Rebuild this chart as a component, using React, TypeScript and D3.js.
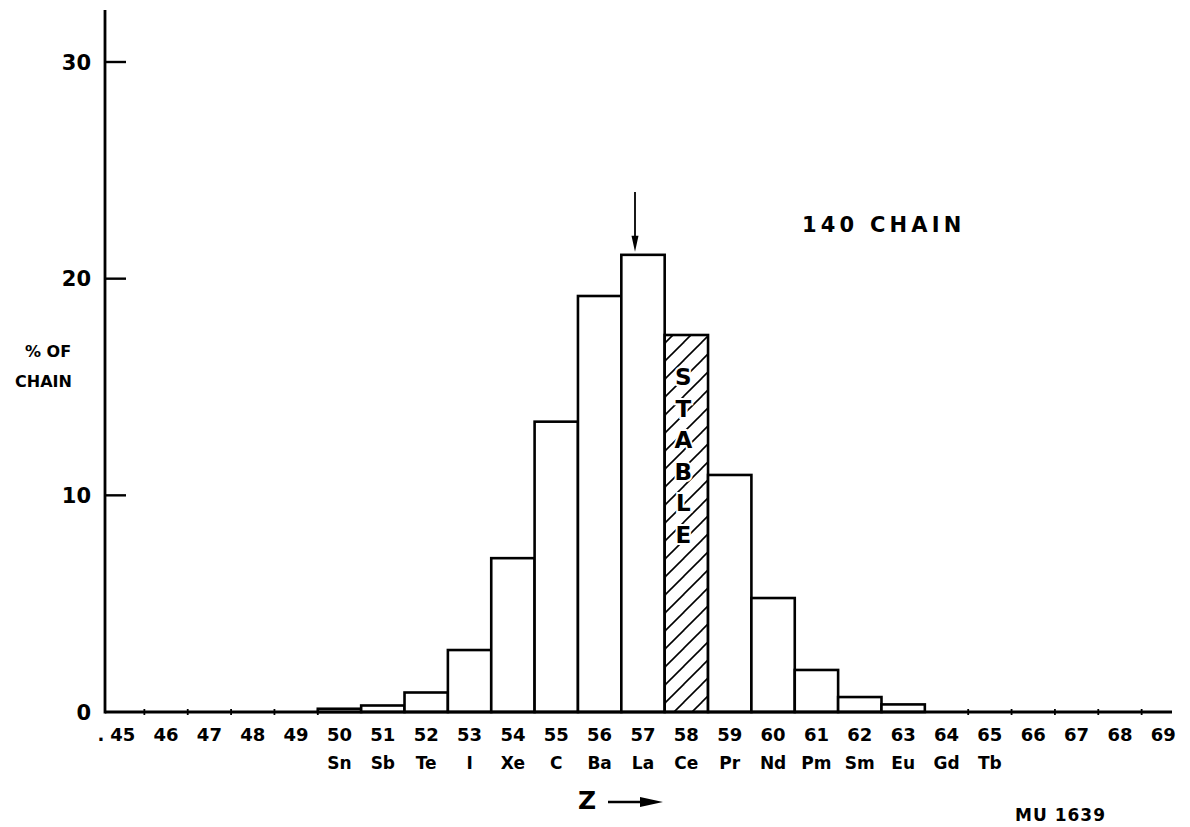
import React from "react";
import * as d3 from "d3";

const zValues = [45, 46, 47, 48, 49, 50, 51, 52, 53, 54, 55, 56, 57, 58, 59, 60, 61, 62, 63, 64, 65, 66, 67, 68, 69];
const elements = ["", "", "", "", "", "Sn", "Sb", "Te", "I", "Xe", "C", "Ba", "La", "Ce", "Pr", "Nd", "Pm", "Sm", "Eu", "Gd", "Tb", "", "", "", ""];
const percents = [0, 0, 0, 0, 0, 0.15, 0.3, 0.9, 2.86, 7.1, 13.4, 19.2, 21.1, 17.4, 10.94, 5.26, 1.94, 0.69, 0.35, 0, 0, 0, 0, 0, 0];
const stableZ = [58];
const arrowZ = 57;
const yTicks = [0, 10, 20, 30];
const stableLetters = ["S", "T", "A", "B", "L", "E"];

const W = 1190;
const H = 827;
const FONT = "'DejaVu Sans', 'Liberation Sans', sans-serif";

export default function App() {
  const x = d3
    .scaleBand<number>()
    .domain(zValues)
    .range([101, 101 + 25 * 43.36])
    .paddingInner(0)
    .paddingOuter(0);
  const y = d3.scaleLinear().domain([0, 30]).range([712, 62]);
  const bw = x.bandwidth();
  const axisX = 105;
  const baseY = y(0);

  const stableX = (x(stableZ[0]) as number) + bw / 2;
  const stableTop = y(percents[zValues.indexOf(stableZ[0])]);
  const arrowX = (x(arrowZ) as number) + bw / 2 - 8;
  const arrowTip = y(percents[zValues.indexOf(arrowZ)]) - 3;

  return (
    <svg width={W} height={H} style={{ position: "absolute", left: 0, top: 0, background: "#fff" }}>
      <defs>
        <pattern id="hatch" patternUnits="userSpaceOnUse" width={18} height={18}>
          <line x1={0} y1={18} x2={18} y2={0} stroke="#000" strokeWidth={1.6} />
          <line x1={-4} y1={4} x2={4} y2={-4} stroke="#000" strokeWidth={1.6} />
          <line x1={14} y1={22} x2={22} y2={14} stroke="#000" strokeWidth={1.6} />
        </pattern>
      </defs>
      <rect x={0} y={0} width={W} height={H} fill="#fff" />

      {/* bars */}
      {zValues.map((z, i) => {
        const v = percents[i];
        if (v <= 0) return null;
        const x0 = x(z) as number;
        const top = y(v);
        const hatched = stableZ.includes(z);
        return (
          <rect
            key={z}
            x={x0}
            y={top}
            width={bw}
            height={baseY - top}
            fill={hatched ? "url(#hatch)" : "#fff"}
            stroke="#000"
            strokeWidth={2.6}
          />
        );
      })}

      {/* small boundary ticks on baseline where bars are empty */}
      {zValues.map((z, i) => {
        if (percents[i] > 0) return null;
        const xb = (x(z) as number) + bw;
        if (xb > 1170) return null;
        return <line key={"t" + z} x1={xb} x2={xb} y1={baseY - 3} y2={baseY + 3} stroke="#000" strokeWidth={1.8} />;
      })}

      {/* axes */}
      <line x1={axisX} y1={10} x2={axisX} y2={baseY + 1.5} stroke="#000" strokeWidth={2.8} />
      <line x1={axisX} y1={baseY} x2={1172} y2={baseY} stroke="#000" strokeWidth={3} />
      {yTicks.map((t) => (
        <g key={t}>
          {t > 0 && <line x1={axisX} x2={axisX + 21} y1={y(t)} y2={y(t)} stroke="#000" strokeWidth={2.4} />}
          <text
            x={91}
            y={y(t)}
            dy="0.36em"
            textAnchor="end"
            fontFamily={FONT}
            fontWeight="bold"
            fontSize={21}
          >
            {t}
          </text>
        </g>
      ))}

      {/* x tick labels */}
      {zValues.map((z, i) => (
        <g key={"l" + z}>
          <text
            x={(x(z) as number) + bw / 2}
            y={741}
            textAnchor="middle"
            fontFamily={FONT}
            fontWeight="bold"
            fontSize={18}
          >
            {z}
          </text>
          {elements[i] && (
            <text
              x={(x(z) as number) + bw / 2}
              y={769}
              textAnchor="middle"
              fontFamily={FONT}
              fontWeight="bold"
              fontSize={17}
            >
              {elements[i]}
            </text>
          )}
        </g>
      ))}
      <text x={101} y={741} fontFamily={FONT} fontWeight="bold" fontSize={18} textAnchor="middle">.</text>

      {/* STABLE */}
      {stableLetters.map((ch, k) => (
        <text
          key={"s" + k}
          x={stableX - 3}
          y={stableTop + 42 + k * 31.5}
          dy="0.36em"
          textAnchor="middle"
          fontFamily={FONT}
          fontWeight="bold"
          fontSize={23}
          stroke="#fff"
          strokeWidth={4}
          paintOrder="stroke"
        >
          {ch}
        </text>
      ))}

      {/* arrow above peak */}
      <line x1={arrowX} x2={arrowX} y1={192} y2={arrowTip - 10} stroke="#000" strokeWidth={1.8} />
      <path d={`M${arrowX - 3.5},${arrowTip - 16} L${arrowX + 3.5},${arrowTip - 16} L${arrowX},${arrowTip} Z`} fill="#000" />

      {/* titles */}
      <text x={802} y={224} dy="0.36em" fontFamily={FONT} fontWeight="bold" fontSize={21} letterSpacing={4.2}>
        140 CHAIN
      </text>
      <text x={25} y={351} dy="0.36em" fontFamily={FONT} fontWeight="bold" fontSize={16}>
        % OF
      </text>
      <text x={15} y={381} dy="0.36em" fontFamily={FONT} fontWeight="bold" fontSize={16}>
        CHAIN
      </text>
      <text x={578} y={800} dy="0.36em" fontFamily={FONT} fontWeight="bold" fontSize={25}>
        Z
      </text>
      <line x1={608} x2={648} y1={802} y2={802} stroke="#000" strokeWidth={2.4} />
      <path d={`M640,797 L663,802 L640,807 Z`} fill="#000" />
      <text x={1015} y={815} dy="0.36em" fontFamily={FONT} fontWeight="bold" fontSize={17} letterSpacing={1}>
        MU  1639
      </text>
    </svg>
  );
}
